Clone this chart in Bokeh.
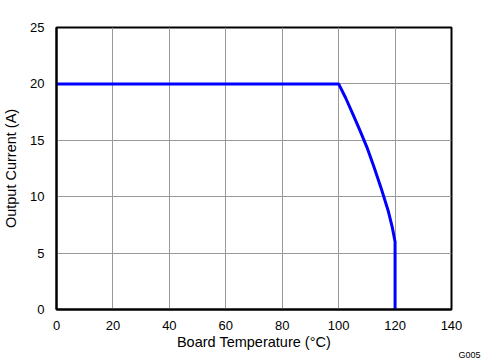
from bokeh.plotting import figure
from bokeh.models import Range1d, Title, FixedTicker
from bokeh.embed import file_html
from bokeh.resources import INLINE

temp = [0, 100, 102.5, 105, 107.5, 110, 112.5, 115, 117.5, 119, 120, 120]
current = [20, 20, 18.75, 17.35, 15.9, 14.4, 12.65, 10.8, 8.8, 7.3, 6.0, 0]
x_ticks = [0, 20, 40, 60, 80, 100, 120, 140]
y_ticks = [0, 5, 10, 15, 20, 25]

p = figure(width=499, height=360, output_backend="svg", toolbar_location=None,
           x_range=Range1d(0, 140), y_range=Range1d(0, 25),
           min_border_left=54, min_border_right=48, min_border_top=27, min_border_bottom=51)

p.line(temp, current, line_color="#0000FF", line_width=3, line_join="round")

font = "Liberation Sans"
for ax in (p.xaxis[0], p.yaxis[0]):
    ax.axis_line_color = "black"
    ax.axis_line_width = 2
    ax.major_tick_line_color = None
    ax.minor_tick_line_color = None
    ax.major_label_text_font = font
    ax.major_label_text_font_size = "13px"
    ax.major_label_text_color = "black"
    ax.axis_label_text_font = font
    ax.axis_label_text_font_size = "14.5px"
    ax.axis_label_text_font_style = "normal"
    ax.axis_label_text_color = "black"

p.xaxis.ticker = FixedTicker(ticks=x_ticks)
p.yaxis.ticker = FixedTicker(ticks=y_ticks)
p.xaxis.axis_label = "Board Temperature (°C)"
p.yaxis.axis_label = "Output Current (A)"
p.xaxis.major_label_standoff = 5
p.yaxis.major_label_standoff = 6
p.xaxis.axis_label_standoff = 1
p.yaxis.axis_label_standoff = 8

p.xgrid.ticker = FixedTicker(ticks=x_ticks)
p.ygrid.ticker = FixedTicker(ticks=y_ticks)
p.grid.grid_line_color = "#999999"
p.grid.grid_line_width = 1

p.outline_line_color = "black"
p.outline_line_width = 2
p.outline_line_alpha = 1

p.add_layout(Title(text="G005", align="right", text_font=font, text_font_size="9px",
                   text_font_style="normal", text_color="black", standoff=-14, offset=-29),
             "below")

open("out.html", "w").write(file_html(p, INLINE))
